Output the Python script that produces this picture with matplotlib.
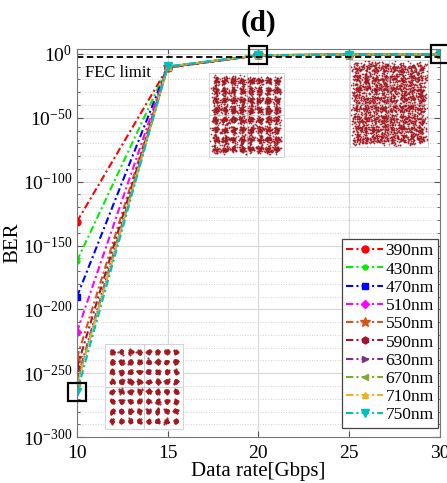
import matplotlib
matplotlib.use("Agg")
import matplotlib.pyplot as plt
import numpy as np
from matplotlib.ticker import FixedLocator, FuncFormatter, NullFormatter

plt.rcParams["font.family"] = ["Liberation Serif", "DejaVu Serif"]
plt.rcParams["mathtext.fontset"] = "custom"
plt.rcParams["mathtext.rm"] = "Liberation Serif"
plt.rcParams["mathtext.it"] = "Liberation Serif:italic"

# ---- data: BER (log10) vs data rate for each wavelength ----
rates = [10, 15, 20, 25, 30]
wavelengths = ["390nm", "430nm", "470nm", "510nm", "550nm",
               "590nm", "630nm", "670nm", "710nm", "750nm"]
log_ber = [
    [-131.4, -10.8, -1.2, -0.6, -0.4],
    [-162.2, -10.6, -1.2, -0.6, -0.4],
    [-190.2, -10.5, -1.1, -0.6, -0.4],
    [-217.9, -10.4, -1.1, -0.6, -0.4],
    [-238.2, -10.3, -1.1, -0.6, -0.4],
    [-246.1, -10.2, -1.0, -0.6, -0.4],
    [-255.5, -10.1, -1.0, -0.5, -0.35],
    [-257.5, -10.0, -1.0, -0.5, -0.35],
    [-259.5, -9.9, -1.0, -0.5, -0.35],
    [-264.9, -9.8, -1.0, -0.5, -0.35],
]
fec_limit = 3.8e-3

colors = ["#ff0000", "#00ee00", "#0000ff", "#ff00ff", "#D95319",
          "#A2142F", "#7E2F8E", "#77AC30", "#EDB120", "#00BFBF"]
markers = ["o", ".", "s", "D", "*", "h", ">", "<", "^", "v"]
msizes = [5, 7, 4, 4, 7, 5, 5, 5, 5, 6]

fig = plt.figure(figsize=(4.47, 4.83), dpi=100)
ax = fig.add_axes([0.172, 0.095, 0.812, 0.804])

for lb, c, m, s, lab in zip(log_ber, colors, markers, msizes, wavelengths):
    ax.plot(rates, 10.0 ** np.array(lb), linestyle=(0, (3.5, 1.5, 1, 1.5)),
            color=c, marker=m, ms=s, lw=1.5, label=lab)

ax.axhline(fec_limit, color="k", ls=(0, (3.5, 2)), lw=1.3)
ax.text(10.45, 10.0 ** -15, "FEC limit", fontsize=12, ha="left", va="center")

# highlighted operating points
box_pts = [(10, log_ber[-1][0]), (20, log_ber[-1][2]), (30, log_ber[-1][4])]
for bx, by in box_pts:
    ax.plot(bx, 10.0 ** by, marker="s", ms=13, mfc="none", mec="k", mew=1.6,
            clip_on=False, zorder=5)

ax.set_yscale("log")
ax.set_xlim(10, 30)
ax.set_ylim(1e-300, 1e4)
ax.set_xticks([10, 15, 20, 25, 30])
ax.yaxis.set_major_locator(FixedLocator(10.0 ** np.arange(-300, 1, 50)))
ax.yaxis.set_minor_locator(FixedLocator(10.0 ** np.arange(-300, 4, 10)))
ax.yaxis.set_major_formatter(FuncFormatter(
    lambda v, p: r"$10^{%d}$" % int(round(np.log10(v)))))
ax.yaxis.set_minor_formatter(NullFormatter())
ax.tick_params(axis="both", which="both", direction="in", top=True, right=True,
               labelsize=14, color="#555555")
ax.tick_params(axis="both", which="major", length=4)
ax.tick_params(axis="both", which="minor", length=2.5)
ax.tick_params(axis="x", pad=6)
ax.grid(True, which="major", color="#d8d8d8", lw=0.8, ls="-")
ax.grid(True, which="minor", axis="y", color="#d0d0d0", lw=0.7, ls=":")
ax.set_axisbelow(True)
for sp in ax.spines.values():
    sp.set_color("#777777")

ax.set_xlabel("Data rate[Gbps]", fontsize=15, labelpad=0)
ax.set_ylabel("BER", fontsize=15, labelpad=0)
ax.set_title("(d)", fontsize=21, fontweight="bold", pad=13)

leg = ax.legend(loc="lower right", bbox_to_anchor=(0.995, 0.024),
                fontsize=12.5, frameon=True, fancybox=False,
                edgecolor="#444444", framealpha=1, handlelength=2.1,
                handletextpad=0.15, labelspacing=0.12, borderpad=0.25,
                borderaxespad=0.0)
leg.get_frame().set_linewidth(0.9)

# ---- constellation insets (64-QAM) ----
rng = np.random.default_rng(7)
levels = np.arange(-7, 8, 2)
gi, gq = np.meshgrid(levels, levels)
gi, gq = gi.ravel(), gq.ravel()


def constellation(rect, sigma, per_point, dot):
    iax = fig.add_axes(rect)
    pi = np.repeat(gi, per_point) + rng.normal(0, sigma, gi.size * per_point)
    pq = np.repeat(gq, per_point) + rng.normal(0, sigma, gq.size * per_point)
    iax.scatter(pi, pq, s=dot, color="#A01820", lw=0, alpha=0.9)
    iax.axhline(0, color="#bbbbbb", lw=0.5)
    iax.axvline(0, color="#bbbbbb", lw=0.5)
    iax.set_xlim(-8.6, 8.6)
    iax.set_ylim(-8.6, 8.6)
    iax.set_xticks([])
    iax.set_yticks([])
    for sp in iax.spines.values():
        sp.set_color("#cccccc")
        sp.set_linewidth(0.6)
    iax.set_facecolor("white")


constellation([105 / 447, 1 - 429 / 483, 78 / 447, 85 / 483], 0.2, 40, 2.5)
constellation([209 / 447, 1 - 157 / 483, 75 / 447, 84 / 483], 0.42, 45, 1.6)
constellation([350 / 447, 1 - 147 / 483, 78 / 447, 87 / 483], 0.62, 45, 1.6)

fig.savefig("out.png", dpi=100)
